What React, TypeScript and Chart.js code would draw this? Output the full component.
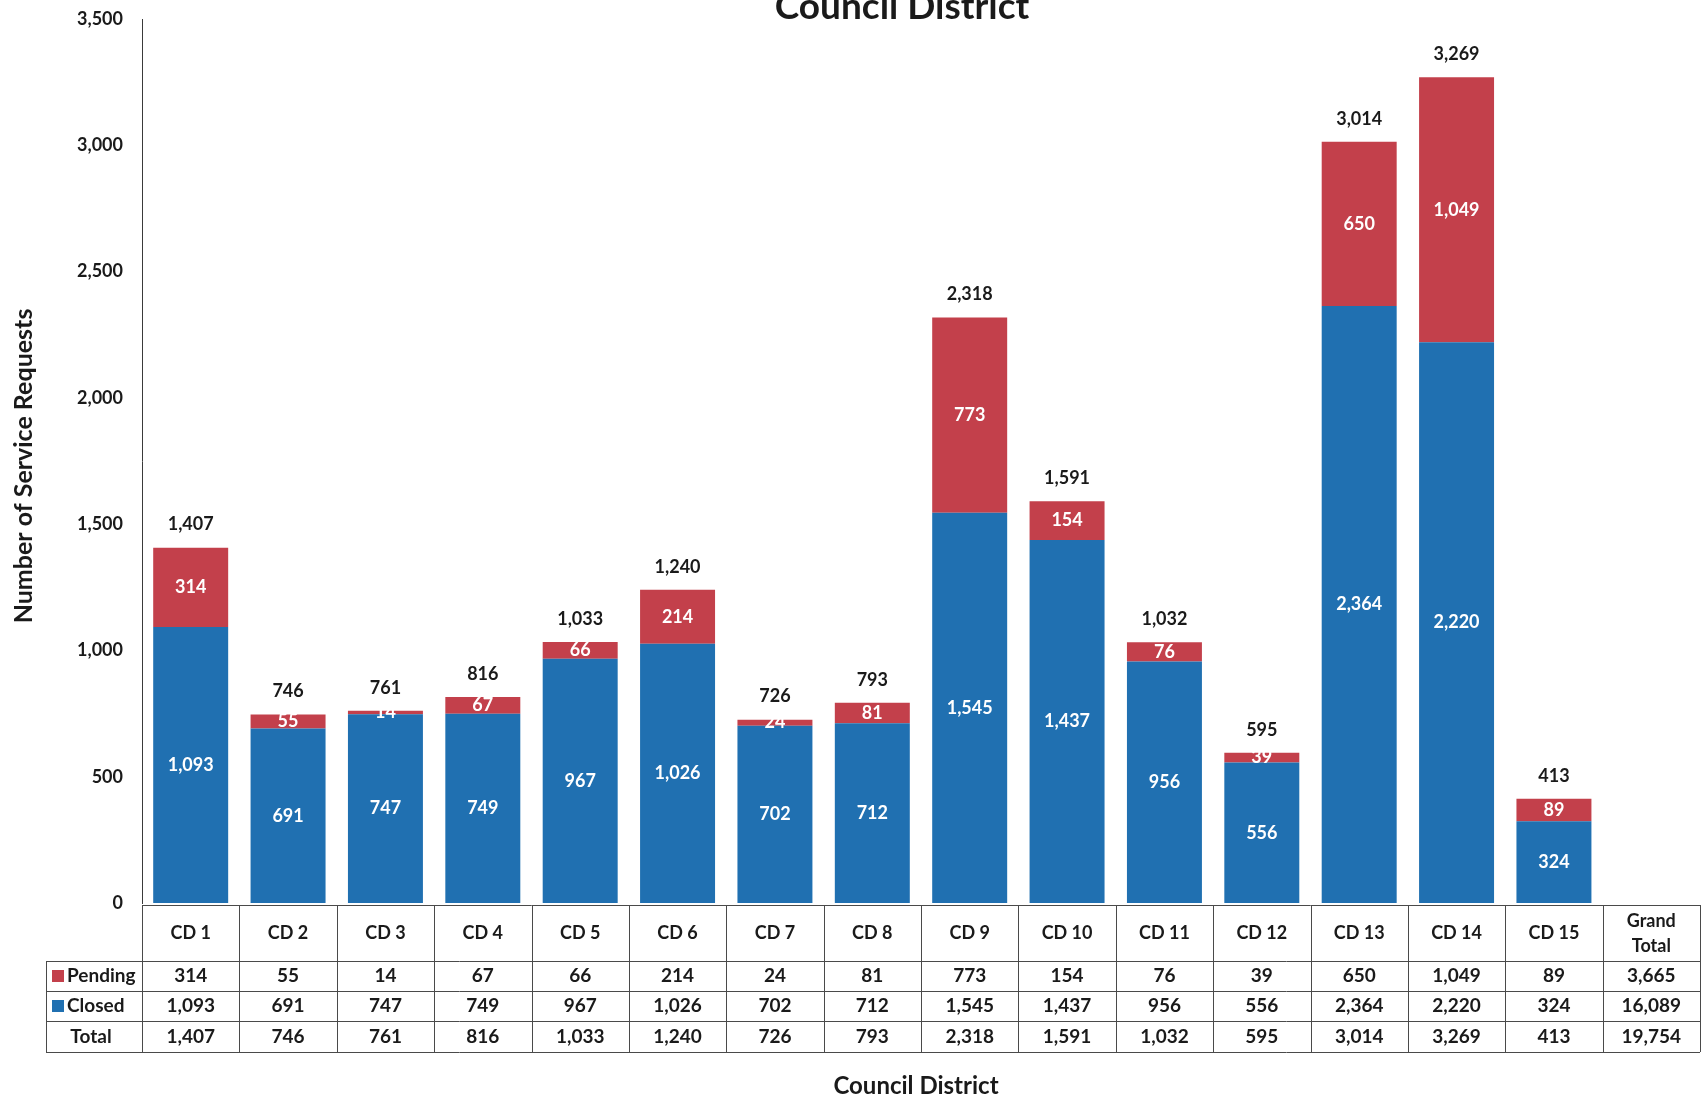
import React, { useEffect, useRef } from "react";
import { Chart, registerables } from "chart.js";

Chart.register(...registerables);

const categories = ["CD 1", "CD 2", "CD 3", "CD 4", "CD 5", "CD 6", "CD 7", "CD 8", "CD 9", "CD 10", "CD 11", "CD 12", "CD 13", "CD 14", "CD 15", "Grand Total"];
const pending = [314, 55, 14, 67, 66, 214, 24, 81, 773, 154, 76, 39, 650, 1049, 89];
const closed = [1093, 691, 747, 749, 967, 1026, 702, 712, 1545, 1437, 956, 556, 2364, 2220, 324];
const totals = [1407, 746, 761, 816, 1033, 1240, 726, 793, 2318, 1591, 1032, 595, 3014, 3269, 413];
const grandTotals = { pending: 3665, closed: 16089, total: 19754 };

const RED = "#c3404b";
const BLUE = "#2070b1";
const FONT = 'Lato, "Open Sans", "DejaVu Sans", sans-serif';
const fmt = (v: number) => v.toLocaleString("en-US");

const overlayPlugin = {
  id: "overlay",
  afterDraw(chart: any) {
    const ctx = chart.ctx as CanvasRenderingContext2D;
    const area = chart.chartArea;
    const xs = chart.scales.x;
    const n = categories.length;
    const colW = (area.right - area.left) / n;
    ctx.save();

    // segment labels
    const metaP = chart.getDatasetMeta(1);
    const metaC = chart.getDatasetMeta(0);
    ctx.textAlign = "center";
    ctx.textBaseline = "middle";
    ctx.font = `bold 18px ${FONT}`;
    for (let i = 0; i < pending.length; i++) {
      const bc = metaC.data[i];
      const bp = metaP.data[i];
      ctx.fillStyle = "#ffffff";
      ctx.fillText(fmt(closed[i]), bc.x, (bc.y + bc.base) / 2);
      ctx.fillText(fmt(pending[i]), bp.x, (bp.y + bp.base) / 2);
      ctx.fillStyle = "#1a1a1a";
      ctx.fillText(fmt(totals[i]), bp.x, bp.y - 23);
    }

    // data table
    const yHeadTop = area.bottom + 2;
    const yHeadBot = 961;
    const yP = 991;
    const yC = 1021;
    const yT = 1052;
    const legendLeft = 46;
    ctx.strokeStyle = "#4a4a4a";
    ctx.lineWidth = 1;
    ctx.beginPath();
    ctx.moveTo(area.left, yHeadTop + 0.5);
    ctx.lineTo(area.right, yHeadTop + 0.5);
    for (const y of [yHeadBot, yP, yC, yT]) {
      ctx.moveTo(legendLeft, y + 0.5);
      ctx.lineTo(area.right, y + 0.5);
    }
    for (let i = 0; i <= n; i++) {
      const x = Math.round(area.left + i * colW) + 0.5;
      ctx.moveTo(x, yHeadTop);
      ctx.lineTo(x, yT);
    }
    ctx.moveTo(legendLeft + 0.5, yHeadBot);
    ctx.lineTo(legendLeft + 0.5, yT);
    ctx.stroke();

    ctx.fillStyle = "#1a1a1a";
    const midH = (yHeadTop + yHeadBot) / 2;
    const midP = (yHeadBot + yP) / 2;
    const midC = (yP + yC) / 2;
    const midT = (yC + yT) / 2;
    for (let i = 0; i < n; i++) {
      const cx = xs.getPixelForValue(i);
      ctx.font = `bold 18px ${FONT}`;
      if (i === n - 1) {
        const parts = categories[i].split(" ");
        ctx.fillText(parts[0], cx, midH - 12);
        ctx.fillText(parts[1], cx, midH + 13);
      } else {
        ctx.fillText(categories[i], cx, midH);
      }
      ctx.font = `bold 19px ${FONT}`;
      if (i === n - 1) {
        ctx.fillText(fmt(grandTotals.pending), cx, midP);
        ctx.fillText(fmt(grandTotals.closed), cx, midC);
        ctx.fillText(fmt(grandTotals.total), cx, midT);
      } else {
        ctx.fillText(fmt(pending[i]), cx, midP);
        ctx.fillText(fmt(closed[i]), cx, midC);
        ctx.fillText(fmt(totals[i]), cx, midT);
      }
    }
    // legend cells
    ctx.fillStyle = RED;
    ctx.fillRect(52, midP - 6, 12, 12);
    ctx.fillStyle = BLUE;
    ctx.fillRect(52, midC - 6, 12, 12);
    ctx.fillStyle = "#1a1a1a";
    ctx.textAlign = "left";
    ctx.font = `bold 19px ${FONT}`;
    ctx.fillText("Pending", 67, midP);
    ctx.fillText("Closed", 67, midC);
    ctx.textAlign = "center";
    ctx.fillText("Total", 91, midT);

    // titles
    ctx.font = `bold 37px ${FONT}`;
    ctx.textBaseline = "alphabetic";
    ctx.fillText("Council District", 902, 19);
    ctx.font = `bold 24px ${FONT}`;
    ctx.textBaseline = "middle";
    ctx.fillText("Council District", 916, 1086);
    ctx.translate(24, 466);
    ctx.rotate(-Math.PI / 2);
    ctx.font = `bold 25px ${FONT}`;
    ctx.fillText("Number of Service Requests", 0, 0);
    ctx.restore();
  },
};

export default function App() {
  const ref = useRef<HTMLCanvasElement | null>(null);
  useEffect(() => {
    if (!ref.current) return;
    const chart = new Chart(ref.current, {
      type: "bar",
      data: {
        labels: categories,
        datasets: [
          { label: "Closed", data: [...closed, null], backgroundColor: BLUE, barPercentage: 0.77, categoryPercentage: 1 },
          { label: "Pending", data: [...pending, null], backgroundColor: RED, barPercentage: 0.77, categoryPercentage: 1 },
        ],
      },
      options: {
        responsive: false,
        animation: false,
        layout: { padding: { left: 0, right: 4, top: 19, bottom: 196 } },
        plugins: { legend: { display: false }, tooltip: { enabled: false }, title: { display: false } },
        scales: {
          x: { stacked: true, display: false },
          y: {
            stacked: true,
            min: 0,
            max: 3500,
            grid: { display: false, drawTicks: false },
            border: { display: true, color: "#3a3a3a", width: 1 },
            ticks: {
              stepSize: 500,
              padding: 19,
              color: "#1a1a1a",
              font: { family: FONT, size: 18, weight: "bold" },
              callback: (v: any) => fmt(Number(v)),
            },
            afterFit: (s: any) => {
              s.width = 142;
              s.paddingTop = 0;
              s.paddingBottom = 0;
            },
          },
        },
      },
      plugins: [overlayPlugin],
    });
    return () => chart.destroy();
  }, []);
  return (
    <div style={{ position: "fixed", left: 0, top: 0, width: 1704, height: 1099, background: "#fff" }}>
      <canvas ref={ref} width={1704} height={1099} style={{ width: 1704, height: 1099 }} />
    </div>
  );
}
